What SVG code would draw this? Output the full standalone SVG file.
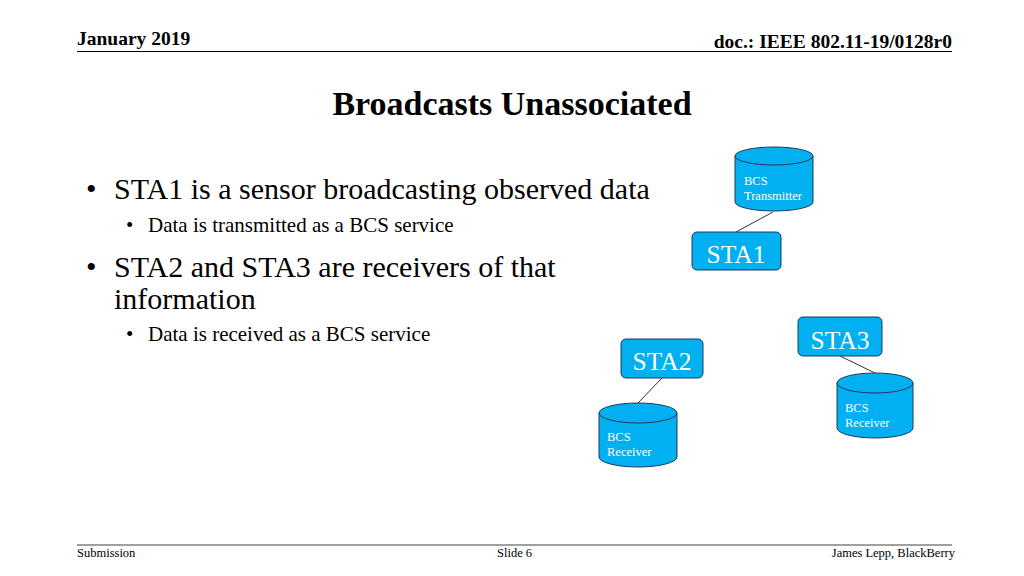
<svg xmlns="http://www.w3.org/2000/svg" width="1024" height="576" viewBox="0 0 1024 576">
<defs>
<style>
.t{font-family:"Liberation Serif","Times New Roman",serif;fill:#000}
.hb{font-size:19.5px;font-weight:bold}
.ft{font-size:12.5px}
.b1{font-size:30px}
.b2{font-size:21px}
.box{fill:#00B0F0;stroke:#1F3A5A;stroke-width:1}
.cyl{fill:#00B0F0;stroke:#1F3A5A;stroke-width:1}
.lbl{font-family:"Liberation Serif","Times New Roman",serif;fill:#fff}
.sta{font-size:25.5px;text-anchor:middle}
.cl{font-size:12.5px}
.con{stroke:#333;stroke-width:1;fill:none}
</style>
</defs>
<rect width="1024" height="576" fill="#fff"/>
<g id="header">
<text class="t hb" x="77" y="45">January 2019</text>
<text class="t hb" x="952" y="48" text-anchor="end">doc.: IEEE 802.11-19/0128r0</text>
<line x1="77" y1="51.5" x2="952" y2="51.5" stroke="#000" stroke-width="1"/>
</g>
<text class="t" x="512" y="115" font-size="34" font-weight="bold" text-anchor="middle">Broadcasts Unassociated</text>
<g id="bullets">
<text class="t b1" x="86" y="199">•</text>
<text class="t b1" x="114" y="199">STA1 is a sensor broadcasting observed data</text>
<text class="t b2" x="126" y="232">•</text>
<text class="t b2" x="148" y="232">Data is transmitted as a BCS service</text>
<text class="t b1" x="86" y="277">•</text>
<text class="t b1" x="114" y="277">STA2 and STA3 are receivers of that</text>
<text class="t b1" x="114" y="309">information</text>
<text class="t b2" x="126" y="341">•</text>
<text class="t b2" x="148" y="341">Data is received as a BCS service</text>
</g>
<g id="connectors">
<line class="con" x1="736" y1="232" x2="773" y2="212"/>
<line class="con" x1="662" y1="378" x2="638" y2="403"/>
<line class="con" x1="840" y1="356" x2="875" y2="373"/>
</g>
<g id="bcs-transmitter">
<path class="cyl" d="M735,156 L735,202 A39,9 0 0 0 813,202 L813,156"/>
<ellipse class="cyl" cx="774" cy="156" rx="39" ry="9"/>
<text class="lbl cl" x="744" y="185">BCS</text>
<text class="lbl cl" x="744" y="200">Transmitter</text>
</g>
<g id="sta1">
<rect class="box" x="692" y="232" width="89" height="38" rx="5"/>
<text class="lbl sta" x="736" y="263">STA1</text>
</g>
<g id="sta2">
<rect class="box" x="621" y="339" width="82" height="39" rx="5"/>
<text class="lbl sta" x="662" y="370">STA2</text>
</g>
<g id="bcs-receiver-2">
<path class="cyl" d="M599,413 L599,457 A39,10 0 0 0 677,457 L677,413"/>
<ellipse class="cyl" cx="638" cy="413" rx="39" ry="10"/>
<text class="lbl cl" x="607" y="441">BCS</text>
<text class="lbl cl" x="607" y="456">Receiver</text>
</g>
<g id="sta3">
<rect class="box" x="798" y="317" width="84" height="39" rx="5"/>
<text class="lbl sta" x="840" y="349">STA3</text>
</g>
<g id="bcs-receiver-3">
<path class="cyl" d="M837,383 L837,428 A38,10 0 0 0 913,428 L913,383"/>
<ellipse class="cyl" cx="875" cy="383" rx="38" ry="10"/>
<text class="lbl cl" x="845" y="412">BCS</text>
<text class="lbl cl" x="845" y="427">Receiver</text>
</g>
<g id="footer">
<line x1="77" y1="545" x2="952" y2="545" stroke="#808080" stroke-width="1.5"/>
<text class="t ft" x="77" y="557">Submission</text>
<text class="t ft" x="497" y="557">Slide 6</text>
<text class="t ft" x="955" y="557" text-anchor="end">James Lepp, BlackBerry</text>
</g>
</svg>
